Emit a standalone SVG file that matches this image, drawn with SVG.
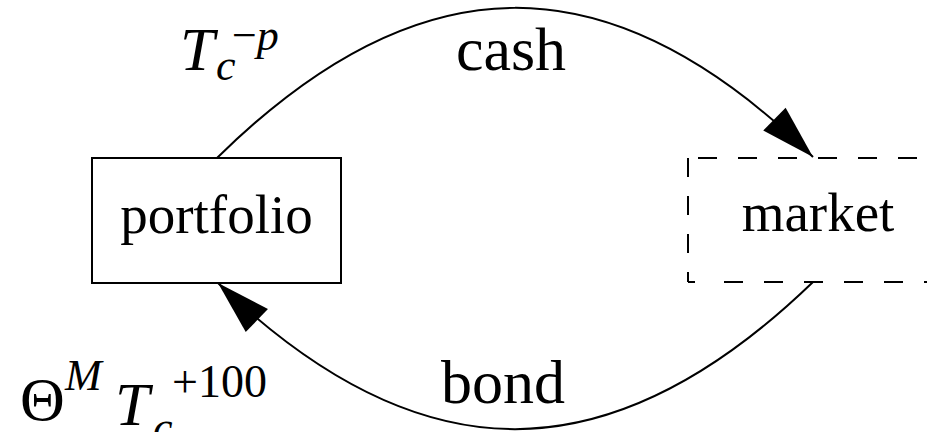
<svg xmlns="http://www.w3.org/2000/svg" width="927" height="432" viewBox="0 0 927 432">
<style>
  .box{fill:none;stroke:#000;stroke-width:2}
  .dash{fill:none;stroke:#000;stroke-width:2}
  .edge{fill:none;stroke:#000;stroke-width:2}
  text{font-family:"Liberation Serif","Times New Roman",serif;fill:#000}
  .node{font-size:55px;text-anchor:middle}
  .elab{font-size:62px;text-anchor:middle}
  .it{font-style:italic}
</style>
<defs>
  <marker id="arr" markerUnits="userSpaceOnUse" markerWidth="56" markerHeight="34" refX="54" refY="16" orient="auto" overflow="visible">
    <path d="M0,0 L54,16 L0,32 z" fill="#000"/>
  </marker>
</defs>
<rect width="927" height="432" fill="#fff"/>
<g id="portfolio">
  <rect class="box" x="92" y="158" width="249" height="125"/>
  <text class="node" x="216.5" y="233">portfolio</text>
</g>
<g id="market">
  <path class="dash" d="M688,158 H930" stroke-dasharray="19 21" stroke-dashoffset="30"/>
  <path class="dash" d="M688,158 V282" stroke-dasharray="19 19"/>
  <path class="dash" d="M688,282 H930" stroke-dasharray="7 29 19 21 19 21 19 21 19 21 19 21 19 21"/>
  <text class="node" x="818" y="231">market</text>
</g>
<g id="connectors">
  <path class="edge" d="M217,158 C420,-42 610,-42 813,157" marker-end="url(#arr)"/>
  <path class="edge" d="M813,282 C610,478 420,478 218,283" marker-end="url(#arr)"/>
</g>
<g id="labels">
  <text class="elab" x="511" y="70">cash</text>
  <text class="elab" x="503" y="403">bond</text>
  <text class="it" x="180" y="70" font-size="62">T</text>
  <text class="it" x="216" y="80" font-size="44">c</text>
  <text x="232" y="50" font-size="44">−<tspan class="it">p</tspan></text>
  <text x="20" y="420" font-size="62">Θ</text>
  <text class="it" x="65" y="390" font-size="44">M</text>
  <text class="it" x="115" y="425" font-size="62">T</text>
  <text class="it" x="153" y="442" font-size="44">c</text>
  <text x="172" y="397" font-size="46">+100</text>
</g>
</svg>
